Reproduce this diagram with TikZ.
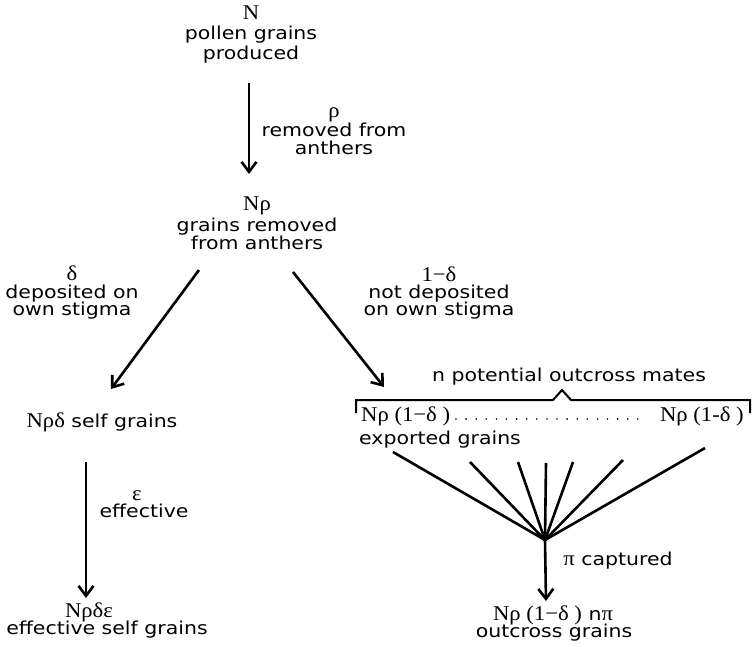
\documentclass[tikz,border=0pt]{standalone}
\usepackage{fontspec}
\setmainfont{DejaVu Sans}[FakeStretch=1.15]
\newfontfamily\grkfont{Liberation Serif}[FakeStretch=1.08]
\usetikzlibrary{arrows.meta}
\newcommand\gk[1]{{\grkfont\fontsize{21}{21}\selectfont #1}}
\begin{document}
\begin{tikzpicture}[x=1pt,y=-1pt,
  txt/.style={inner sep=0pt, anchor=base, font=\fontsize{17.8}{18}\selectfont},
  ln/.style={line width=2.6pt},
  arr/.style={line width=2.6pt, -{Straight Barb[length=10pt,width=15pt,line width=2.6pt]}}]
\useasboundingbox (0,0) rectangle (752,647);
% top
\node[txt] (topN) at (251,20) {\gk{N}};
\node[txt] (top2) at (251,40) {pollen grains};
\node[txt] (top3) at (251,60) {produced};
\coordinate (a1s) at (249,83);
\coordinate (a1e) at (249,174);
\draw[arr] (a1s) -- (a1e);
\node[txt] (rho1) at (334,118) {\gk{ρ}};
\node[txt] (rho2) at (334,137) {removed from};
\node[txt] (rho3) at (334,155) {anthers};
% middle
\node[txt] (mid1) at (257,211) {\gk{Nρ}};
\node[txt] (mid2) at (257,231) {grains removed};
\node[txt] (mid3) at (257,249) {from anthers};
\coordinate (lds) at (199,270);
\coordinate (lde) at (111,389);
\draw[arr] (lds) -- (lde);
\coordinate (rds) at (293,272);
\coordinate (rde) at (384,387);
\draw[arr] (rds) -- (rde);
\node[txt] (dl1) at (72,280) {\gk{δ}};
\node[txt] (dl2) at (72,298) {deposited on};
\node[txt] (dl3) at (72,315) {own stigma};
\node[txt] (dr1) at (439,281) {\gk{1−δ}};
\node[txt] (dr2) at (439,298) {not deposited};
\node[txt] (dr3) at (439,315) {on own stigma};
% left branch
\node[txt] (self) at (102,427) {\gk{Nρδ} self grains};
\coordinate (a2s) at (86,462);
\coordinate (a2e) at (86,598);
\draw[arr] (a2s) -- (a2e);
\node[txt] (eps1) at (137,500) {\gk{ε}};
\node[txt] (eps2) at (144,517) {effective};
\node[txt] (eff1) at (89,617) {\gk{Nρδε}};
\node[txt] (eff2) at (107,634) {effective self grains};
% right branch
\node[txt] (mates) at (569,381) {n potential outcross mates};
\draw[line width=2pt] (356,413) -- (356,400) -- (553,400) -- (562,390) -- (571,400) -- (750,400) -- (750,413);
\node[txt, anchor=base west] (expL) at (361,421) {\gk{Nρ (1−δ )}};
\node[txt, anchor=base east] (expR) at (744,421) {\gk{Nρ (1-δ )}};
\draw[line width=1.8pt, line cap=round, dash pattern=on 0pt off 10.1pt] (456,419) -- (644,419);
\node[txt, anchor=base west] (expG) at (359,444) {exported grains};
\coordinate (hub) at (545,540);
\coordinate (f1) at (393,452);
\coordinate (f2) at (470,462);
\coordinate (f3) at (518,462);
\coordinate (f4) at (546,463);
\coordinate (f5) at (573,462);
\coordinate (f6) at (623,460);
\coordinate (f7) at (705,448);
\foreach \f in {f1,f2,f3,f4,f5,f6,f7} \draw[ln] (\f) -- (hub);
\coordinate (a3e) at (546,601);
\draw[arr] (hub) -- (a3e);
\node[txt] (capt) at (618,565) {\gk{π} captured};
\node[txt] (out1) at (553,620) {\gk{Nρ (1−δ )} n\gk{π}};
\node[txt] (out2) at (554,637) {outcross grains};
\end{tikzpicture}
\end{document}
